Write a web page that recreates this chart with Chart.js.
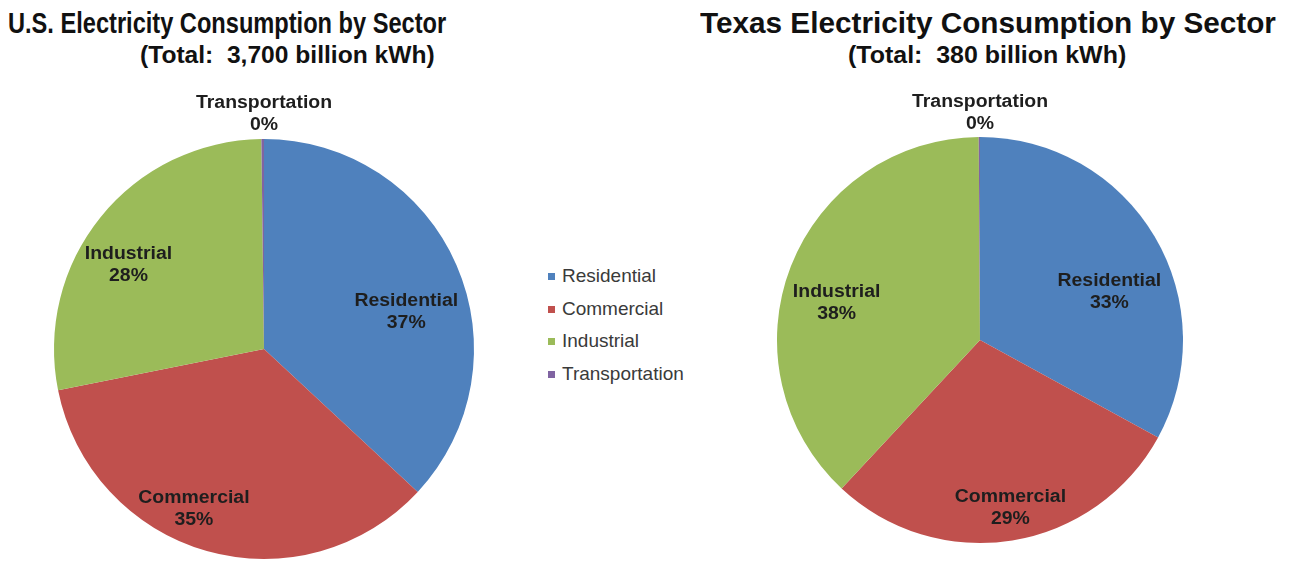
<!DOCTYPE html>
<html>
<head>
<meta charset="utf-8">
<script src="https://cdn.jsdelivr.net/npm/chart.js@4.4.1/dist/chart.umd.min.js"></script>
<style>
  body { margin: 0; width: 1290px; height: 562px; background: #fff; position: relative; overflow: hidden; font-family: "Liberation Sans", Arial, sans-serif; }
  .box { position: absolute; }
  .title { position: absolute; font-weight: bold; color: #111; white-space: nowrap; line-height: 1; transform-origin: 0 0; }
  #legend { position: absolute; left: 548px; top: 264px; font-size: 19px; color: #3a3a3a; }
  #legend div { height: 32.5px; line-height: 24px; white-space: nowrap; }
  #legend span { display: inline-block; width: 7px; height: 7px; margin-right: 7px; vertical-align: 2px; }
</style>
</head>
<body>
<div class="title" style="left:8px; top:9px; font-size:29px; transform:scaleX(0.814);">U.S. Electricity Consumption by Sector</div>
<div class="title" style="left:140px; top:44px; font-size:23px; transform:scaleX(1.069);">(Total:&nbsp; 3,700 billion kWh)</div>
<div class="title" style="left:700px; top:9px; font-size:29px; transform:scaleX(1.025);">Texas Electricity Consumption by Sector</div>
<div class="title" style="left:848px; top:44px; font-size:23px; transform:scaleX(1.085);">(Total:&nbsp; 380 billion kWh)</div>

<div class="box" style="left:0px; top:90px; width:528px; height:472px;"><canvas id="us-chart" width="528" height="472"></canvas></div>
<div class="box" style="left:760px; top:90px; width:440px; height:472px;"><canvas id="tx-chart" width="440" height="472"></canvas></div>
<div id="legend"></div>

<script>
// sectors and shares (percent of total)
var sectors = ['Residential', 'Commercial', 'Industrial', 'Transportation'];
var usShares = [37, 35, 28, 0.2];
var txShares = [33, 29, 38, 0.1];
var colors = ['#4F81BD', '#C0504D', '#9BBB59', '#8064A2'];

// draws "Sector\nNN%" labels, position given as angle shift (deg) and radius factor per slice
var sliceLabels = {
    id: 'sliceLabels',
    afterDatasetsDraw: function(chart, args, opts) {
        var ctx = chart.ctx;
        var meta = chart.getDatasetMeta(0);
        var data = chart.data.datasets[0].data;
        var total = data.reduce(function(a, b) { return a + b; }, 0);
        meta.data.forEach(function(arc, i) {
            var p = arc.getProps(['x', 'y', 'startAngle', 'endAngle', 'outerRadius'], true);
            var pos = opts.pos[i];
            var mid = (p.startAngle + p.endAngle) / 2 + pos[0] * Math.PI / 180;
            if (pos[2]) mid = -Math.PI / 2;
            var r = p.outerRadius * pos[1];
            var x = p.x + Math.cos(mid) * r;
            var y = p.y + Math.sin(mid) * r;
            var pct = Math.round(data[i] / total * 100) + '%';
            ctx.save();
            ctx.translate(x, y);
            ctx.scale(1.08, 1);
            ctx.font = 'bold 18px "Liberation Sans", Arial, sans-serif';
            ctx.fillStyle = '#1e1e1e';
            ctx.textAlign = 'center';
            ctx.textBaseline = 'middle';
            ctx.fillText(chart.data.labels[i], 0, -11);
            ctx.fillText(pct, 0, 11);
            ctx.restore();
        });
    }
};

function makePie(id, shares, padding, pos) {
    return new Chart(document.getElementById(id), {
        type: 'pie',
        data: {
            labels: sectors,
            datasets: [{
                data: shares,
                backgroundColor: colors,
                borderWidth: 0
            }]
        },
        options: {
            responsive: false,
            animation: false,
            layout: { padding: padding },
            plugins: {
                legend: { display: false },
                tooltip: { enabled: false },
                sliceLabels: { pos: pos }
            }
        },
        plugins: [sliceLabels]
    });
}

makePie('us-chart', usShares, { top: 49, bottom: 3, left: 54, right: 54 },
    [[8.9, 0.70], [7.9, 0.83], [-7.1, 0.76], [0, 1.12, true]]);
makePie('tx-chart', txShares, { top: 47, bottom: 19, left: 17, right: 17 },
    [[10.2, 0.68], [-1.1, 0.84], [-6.7, 0.73], [0, 1.12, true]]);

// shared legend
var legend = document.getElementById('legend');
sectors.forEach(function(s, i) {
    var row = document.createElement('div');
    row.innerHTML = '<span style="background:' + colors[i] + '"></span>' + s;
    legend.appendChild(row);
});
</script>
</body>
</html>
